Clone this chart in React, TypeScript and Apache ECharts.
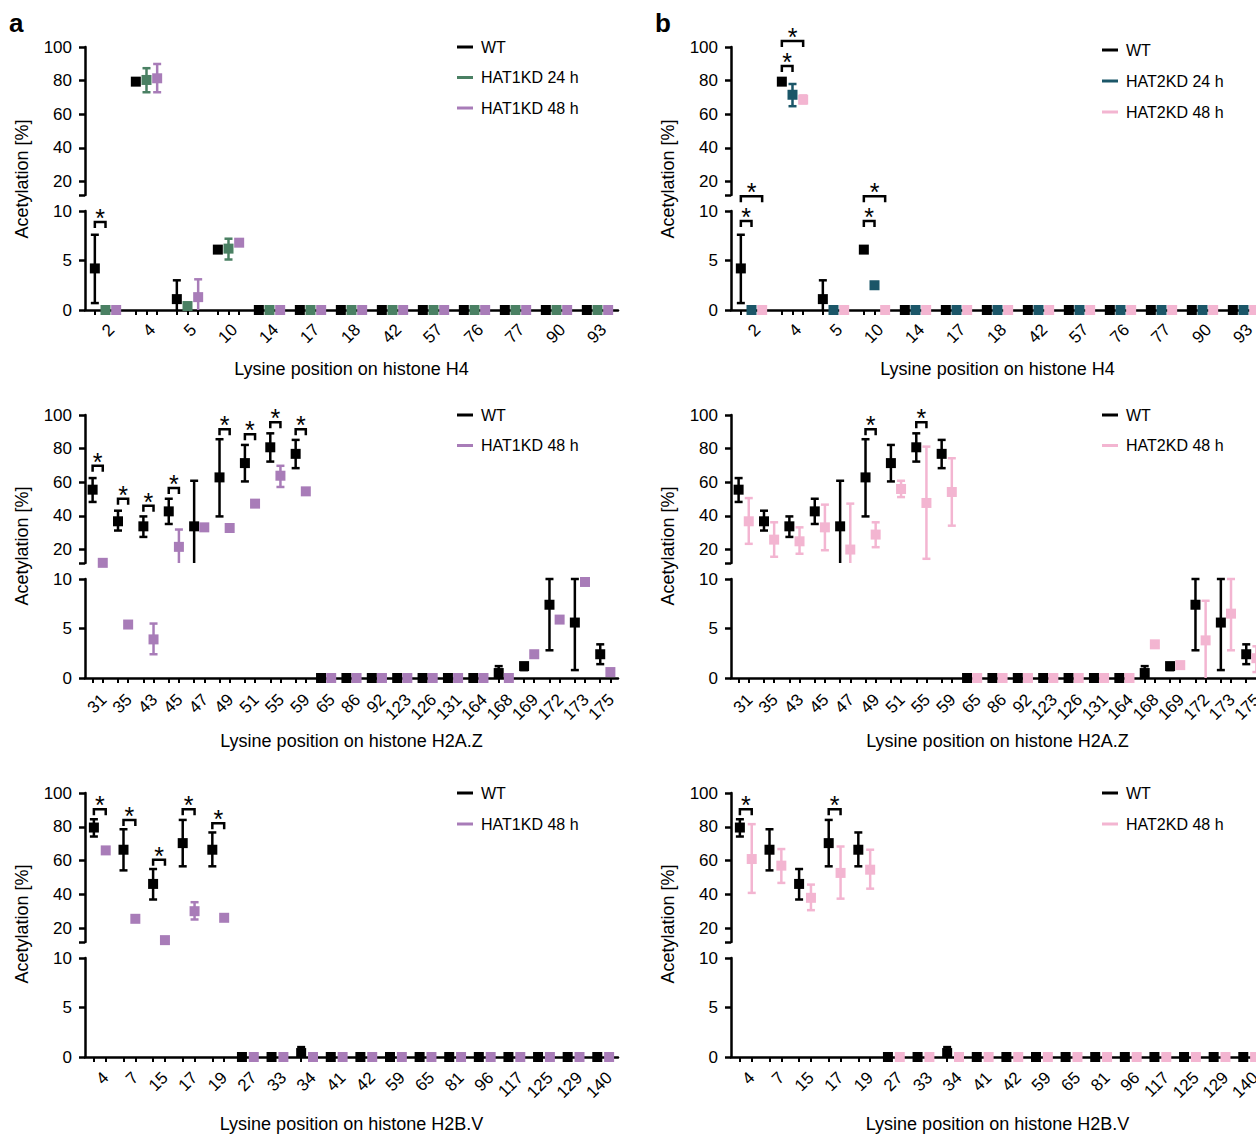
import React, { useEffect, useRef } from 'react';
import * as echarts from 'echarts';

const FONT = '"Liberation Sans", Arial, Helvetica, sans-serif';

// ---------- categories (lysine positions) ----------
const h4Positions = ['2', '4', '5', '10', '14', '17', '18', '42', '57', '76', '77', '90', '93'];
const h2azPositions = ['31', '35', '43', '45', '47', '49', '51', '55', '59', '65', '86', '92', '123', '126', '131', '164', '168', '169', '172', '173', '175'];
const h2bvPositions = ['4', '7', '15', '17', '19', '27', '33', '34', '41', '42', '59', '65', '81', '96', '117', '125', '129', '140'];

// ---------- H4 ----------
const h4WT = [4.2, 79.4, 1.1, 6.1, 0, 0, 0, 0, 0, 0, 0, 0, 0];
const h4WTErr = [[0, 0.7, 7.6], [2, -1, 3.0]]; // [index, low, high]
const h4Hat1_24 = [0, 80.4, 0.4, 6.2, 0, 0, 0, 0, 0, 0, 0, 0, 0];
const h4Hat1_24Err = [[1, 73.1, 87.4], [3, 5.1, 7.2]];
const h4Hat1_48 = [0, 81.4, 1.3, 6.8, 0, 0, 0, 0, 0, 0, 0, 0, 0];
const h4Hat1_48Err = [[1, 73.1, 89.9], [2, -1, 3.1]];
const h4Hat2_24 = [0, 71.6, 0, 2.5, 0, 0, 0, 0, 0, 0, 0, 0, 0];
const h4Hat2_24Err = [[1, 64.8, 78.0]];
const h4Hat2_48 = [0, 68.7, 0, 0, 0, 0, 0, 0, 0, 0, 0, 0, 0];
const h4Hat2_48Err = [[1, 66.5, 71.2]];
// significance brackets: [category, fromGroup, toGroup, height]
const h4Hat1Sig = [[0, 0, 1, 8.9]];
const h4Hat2Sig = [[0, 0, 1, 9.0], [0, 0, 2, 11.5], [1, 0, 1, 88.7], [1, 0, 2, 103.6], [3, 0, 1, 9.0], [3, 0, 2, 11.5]];

// ---------- H2A.Z ----------
const h2azWT = [55.6, 36.8, 33.8, 42.7, 33.8, 62.9, 71.4, 80.8, 76.9, 0, 0, 0, 0, 0, 0, 0, 0.5, 1.2, 7.4, 5.6, 2.4];
const h2azWTErr = [[0, 48.3, 62.5], [1, 31.3, 43.1], [2, 27.5, 39.7], [3, 35.2, 50.2], [4, 10, 60.9], [5, 39.7, 85.6], [6, 60.5, 82.2], [7, 72.3, 89.1], [8, 68.4, 85.2], [16, -1, 1.2], [17, 0.8, 1.5], [18, 2.8, 10], [19, 0.8, 10], [20, 1.4, 3.4]];
const h2azHat1_48 = [12.1, 5.4, 3.9, 21.6, 33.2, 32.8, 47.3, 63.9, 54.6, 0, 0, 0, 0, 0, 0, 0, 0, 2.4, 5.9, 9.7, 0.6];
const h2azHat1_48Err = [[2, 2.4, 5.5], [3, 10, 31.9], [7, 57.2, 69.8]];
const h2azHat2_48 = [36.8, 25.9, 24.9, 33.2, 20.0, 28.9, 56.0, 47.7, 54.2, 0, 0, 0, 0, 0, 0, 0, 3.4, 1.3, 3.8, 6.5, 2.0];
const h2azHat2_48Err = [[0, 23.4, 50.6], [1, 15.7, 36.2], [2, 17.5, 33.2], [3, 19.6, 46.7], [4, 10, 47.3], [5, 21.4, 36.2], [6, 51.2, 60.9], [7, 14.5, 81.2], [8, 34.2, 74.3], [18, -1, 7.8], [19, 2.8, 10], [20, 0.6, 3.2]];
const h2azHat1Sig = [[0, 0, 1, 69.8], [1, 0, 1, 50.2], [2, 0, 1, 46.1], [3, 0, 1, 56.6], [5, 0, 1, 91.5], [6, 0, 1, 88.6], [7, 0, 1, 95.7], [8, 0, 1, 91.5]];
const h2azHat2Sig = [[5, 0, 1, 91.5], [7, 0, 1, 95.7]];

// ---------- H2B.V ----------
const h2bvWT = [79.6, 66.5, 46.3, 70.4, 66.5, 0, 0, 0.4, 0, 0, 0, 0, 0, 0, 0, 0, 0, 0];
const h2bvWTErr = [[0, 74.3, 84.5], [1, 54.3, 78.6], [2, 37.1, 55.1], [3, 56.7, 84.1], [4, 56.7, 76.7], [7, -1, 1.0]];
const h2bvHat1_48 = [66.1, 25.7, 13.1, 30.2, 26.3, 0, 0, 0, 0, 0, 0, 0, 0, 0, 0, 0, 0, 0];
const h2bvHat1_48Err = [[3, 25.3, 35.5]];
const h2bvHat2_48 = [61.0, 57.1, 38.1, 52.8, 54.7, 0, 0, 0, 0, 0, 0, 0, 0, 0, 0, 0, 0, 0];
const h2bvHat2_48Err = [[0, 41.0, 81.6], [1, 46.9, 66.9], [2, 30.8, 45.9], [3, 37.6, 68.4], [4, 43.5, 66.5]];
const h2bvHat1Sig = [[0, 0, 1, 90.4], [1, 0, 1, 84.1], [2, 0, 1, 60.6], [3, 0, 1, 90.4], [4, 0, 1, 82.2]];
const h2bvHat2Sig = [[0, 0, 1, 90.4], [3, 0, 1, 90.4]];

// ---------- axis ticks ----------
const upperTicks = [12, 20, 40, 60, 80, 100];
const upperLabels = [20, 40, 60, 80, 100];

// ---------- styling ----------
const C = {
  wt: '#000000',
  hat1_24: '#4a8063',
  hat1_48: '#a87cb8',
  hat2_24: '#1b5668',
  hat2_48: '#f3b5d1',
};

const COL_LEFT = [85, 731];
const PLOT_W = 533;
const ROWS = [
  { upTop: 47, upBot: 195, loTop: 211, loBot: 310, title: 369, yTitle: 179, labelMargin: 11 },
  { upTop: 415, upBot: 563, loTop: 579, loBot: 678, title: 741, yTitle: 546, labelMargin: 13 },
  { upTop: 793, upBot: 942, loTop: 958, loBot: 1057, title: 1124, yTitle: 924, labelMargin: 12 },
];

const panels = [
  {
    col: 0, row: 0, cats: h4Positions, title: 'Lysine position on histone H4',
    groups: [
      { name: 'WT', color: C.wt, values: h4WT, err: h4WTErr },
      { name: 'HAT1KD 24 h', color: C.hat1_24, values: h4Hat1_24, err: h4Hat1_24Err },
      { name: 'HAT1KD 48 h', color: C.hat1_48, values: h4Hat1_48, err: h4Hat1_48Err },
    ],
    sig: h4Hat1Sig, legend: { left: 457, top: 47, gap: 30.5 },
  },
  {
    col: 1, row: 0, cats: h4Positions, title: 'Lysine position on histone H4',
    groups: [
      { name: 'WT', color: C.wt, values: h4WT, err: h4WTErr },
      { name: 'HAT2KD 24 h', color: C.hat2_24, values: h4Hat2_24, err: h4Hat2_24Err },
      { name: 'HAT2KD 48 h', color: C.hat2_48, values: h4Hat2_48, err: h4Hat2_48Err },
    ],
    sig: h4Hat2Sig, legend: { left: 1102, top: 50, gap: 31 },
  },
  {
    col: 0, row: 1, cats: h2azPositions, title: 'Lysine position on histone H2A.Z',
    groups: [
      { name: 'WT', color: C.wt, values: h2azWT, err: h2azWTErr },
      { name: 'HAT1KD 48 h', color: C.hat1_48, values: h2azHat1_48, err: h2azHat1_48Err },
    ],
    sig: h2azHat1Sig, legend: { left: 457, top: 415, gap: 30.5 },
  },
  {
    col: 1, row: 1, cats: h2azPositions, title: 'Lysine position on histone H2A.Z',
    groups: [
      { name: 'WT', color: C.wt, values: h2azWT, err: h2azWTErr },
      { name: 'HAT2KD 48 h', color: C.hat2_48, values: h2azHat2_48, err: h2azHat2_48Err },
    ],
    sig: h2azHat2Sig, legend: { left: 1102, top: 415, gap: 30.5 },
  },
  {
    col: 0, row: 2, cats: h2bvPositions, title: 'Lysine position on histone H2B.V',
    groups: [
      { name: 'WT', color: C.wt, values: h2bvWT, err: h2bvWTErr },
      { name: 'HAT1KD 48 h', color: C.hat1_48, values: h2bvHat1_48, err: h2bvHat1_48Err },
    ],
    sig: h2bvHat1Sig, legend: { left: 457, top: 793, gap: 31 },
  },
  {
    col: 1, row: 2, cats: h2bvPositions, title: 'Lysine position on histone H2B.V',
    groups: [
      { name: 'WT', color: C.wt, values: h2bvWT, err: h2bvWTErr },
      { name: 'HAT2KD 48 h', color: C.hat2_48, values: h2bvHat2_48, err: h2bvHat2_48Err },
    ],
    sig: h2bvHat2Sig, legend: { left: 1102, top: 793, gap: 31 },
  },
];

const LINE_W = 2.5;

function errRenderer(range: number[], color: string) {
  return (params: any, api: any) => {
    const x = api.value(0);
    const lo = api.value(1);
    const hi = api.value(2);
    const a = Math.max(lo, range[0]);
    const b = Math.min(hi, range[1]);
    if (b <= a) return { type: 'group', children: [] };
    const pa = api.coord([x, a]);
    const pb = api.coord([x, b]);
    const children: any[] = [
      { type: 'line', shape: { x1: pa[0], y1: pa[1], x2: pb[0], y2: pb[1] }, style: { stroke: color, lineWidth: LINE_W } },
    ];
    if (lo >= range[0]) children.push({ type: 'line', shape: { x1: pa[0] - 4, y1: pa[1], x2: pa[0] + 4, y2: pa[1] }, style: { stroke: color, lineWidth: LINE_W } });
    if (hi <= range[1]) children.push({ type: 'line', shape: { x1: pb[0] - 4, y1: pb[1], x2: pb[0] + 4, y2: pb[1] }, style: { stroke: color, lineWidth: LINE_W } });
    return { type: 'group', children };
  };
}

function sigRenderer(params: any, api: any) {
  const y = api.value(2);
  const a = api.coord([api.value(0), y]);
  const b = api.coord([api.value(1), y]);
  return {
    type: 'group',
    children: [
      {
        type: 'polyline',
        shape: { points: [[a[0], a[1] + 6], [a[0], a[1]], [b[0], b[1]], [b[0], b[1] + 6]] },
        style: { stroke: '#000', lineWidth: LINE_W, fill: null },
      },
      {
        type: 'text',
        x: (a[0] + b[0]) / 2,
        y: a[1] - 4,
        style: { text: '*', fontSize: 25, fontFamily: FONT, fill: '#000', align: 'center', verticalAlign: 'middle' },
      },
    ],
  };
}

function buildOption() {
  const grid: any[] = [];
  const xAxis: any[] = [];
  const yAxis: any[] = [];
  const series: any[] = [];
  const legend: any[] = [];
  const graphic: any[] = [];

  const axisLineStyle = { color: '#000', width: LINE_W };

  panels.forEach((p) => {
    const r = ROWS[p.row];
    const left = COL_LEFT[p.col];
    const n = p.cats.length;
    const offs = p.groups.length === 3 ? [-0.26, 0, 0.26] : [-0.2, 0.2];

    const up = grid.length;
    grid.push({ left, width: PLOT_W, top: r.upTop, height: r.upBot - r.upTop, containLabel: false, outerBoundsMode: 'none' });
    const lo = grid.length;
    grid.push({ left, width: PLOT_W, top: r.loTop, height: r.loBot - r.loTop, containLabel: false, outerBoundsMode: 'none' });

    const tickVals: number[] = [];
    p.cats.forEach((_, i) => offs.forEach((o) => tickVals.push(i + o)));

    xAxis.push({ gridIndex: up, type: 'value', min: -0.5, max: n - 0.5, show: false, axisLine: { onZero: false } });
    xAxis.push({
      gridIndex: lo, type: 'value', min: -0.5, max: n - 0.5,
      axisLine: { show: true, onZero: false, lineStyle: axisLineStyle },
      axisTick: { show: true, customValues: tickVals, length: 5, lineStyle: { color: '#000', width: 2 } },
      axisLabel: {
        show: true, customValues: p.cats.map((_, i) => i), rotate: 45, hideOverlap: false,
        align: 'right', verticalAlign: 'top',
        formatter: (v: number) => p.cats[Math.round(v)], fontSize: 17, margin: r.labelMargin, color: '#000', fontFamily: FONT,
      },
      splitLine: { show: false },
    });

    yAxis.push({
      gridIndex: up, type: 'value', min: 12, max: 100,
      axisLine: { show: true, onZero: false, lineStyle: axisLineStyle },
      axisTick: { show: true, customValues: upperTicks, length: 6, lineStyle: { color: '#000', width: LINE_W } },
      axisLabel: { show: true, customValues: upperLabels, fontSize: 17, margin: 13, color: '#000', fontFamily: FONT },
      splitLine: { show: false },
    });
    yAxis.push({
      gridIndex: lo, type: 'value', min: 0, max: 10, interval: 5,
      axisLine: { show: true, onZero: false, lineStyle: axisLineStyle },
      axisTick: { show: true, length: 6, lineStyle: { color: '#000', width: LINE_W } },
      axisLabel: { show: true, fontSize: 17, margin: 13, color: '#000', fontFamily: FONT },
      splitLine: { show: false },
    });

    p.groups.forEach((g, gi) => {
      const off = offs[gi];
      const pts = g.values.map((v, i) => [i + off, v]);
      series.push({
        type: 'scatter', name: g.name, xAxisIndex: up, yAxisIndex: up, symbol: 'rect', symbolSize: 10,
        itemStyle: { color: g.color, opacity: 1 }, data: pts.filter((d) => d[1] > 10), z: 5, clip: false, silent: true,
      });
      series.push({
        type: 'scatter', name: g.name, xAxisIndex: lo, yAxisIndex: lo, symbol: 'rect', symbolSize: 10,
        itemStyle: { color: g.color, opacity: 1 }, data: pts.filter((d) => d[1] <= 10), z: 5, clip: false, silent: true,
      });
      const errUp = g.err.filter((e) => g.values[e[0]] > 10).map((e) => [e[0] + off, e[1], e[2]]);
      const errLo = g.err.filter((e) => g.values[e[0]] <= 10).map((e) => [e[0] + off, e[1], e[2]]);
      series.push({
        type: 'custom', xAxisIndex: up, yAxisIndex: up, data: errUp, renderItem: errRenderer([12, 100], g.color), z: 4, silent: true,
        encode: { x: 0, y: [1, 2] },
      });
      series.push({
        type: 'custom', xAxisIndex: lo, yAxisIndex: lo, data: errLo, renderItem: errRenderer([0, 10], g.color), z: 4, silent: true,
        encode: { x: 0, y: [1, 2] },
      });
    });

    const sigUp = p.sig.filter((s) => s[3] >= 12).map((s) => [s[0] + offs[s[1]], s[0] + offs[s[2]], s[3]]);
    const sigLo = p.sig.filter((s) => s[3] < 12).map((s) => [s[0] + offs[s[1]], s[0] + offs[s[2]], s[3]]);
    series.push({ type: 'custom', xAxisIndex: up, yAxisIndex: up, data: sigUp, renderItem: sigRenderer, z: 6, silent: true, encode: { x: [0, 1], y: 2 } });
    series.push({ type: 'custom', xAxisIndex: lo, yAxisIndex: lo, data: sigLo, renderItem: sigRenderer, z: 6, silent: true, encode: { x: [0, 1], y: 2 } });

    legend.push({
      show: true, orient: 'vertical', left: p.legend.left, top: p.legend.top - 9, padding: 0,
      itemWidth: 16, itemHeight: 3, itemGap: p.legend.gap - 18, icon: 'rect', selectedMode: false,
      data: p.groups.map((g) => g.name),
      textStyle: { fontSize: 16, fontFamily: FONT, color: '#000', lineHeight: 18, padding: [0, 0, 0, 3] },
    });

    graphic.push({
      type: 'text', x: left + PLOT_W / 2, y: r.title,
      style: { text: p.title, fontSize: 18, fontFamily: FONT, fill: '#000', align: 'center', verticalAlign: 'middle' },
    });
    graphic.push({
      type: 'text', x: left - 63.5, y: r.yTitle, rotation: Math.PI / 2,
      style: { text: 'Acetylation [%]', fontSize: 18, fontFamily: FONT, fill: '#000', align: 'center', verticalAlign: 'middle' },
    });
  });

  graphic.push({ type: 'text', x: 9, y: 23, style: { text: 'a', fontSize: 26, fontWeight: 'bold', fontFamily: FONT, fill: '#000', verticalAlign: 'middle' } });
  graphic.push({ type: 'text', x: 655, y: 23, style: { text: 'b', fontSize: 26, fontWeight: 'bold', fontFamily: FONT, fill: '#000', verticalAlign: 'middle' } });

  return {
    animation: false,
    backgroundColor: '#ffffff',
    textStyle: { fontFamily: FONT, color: '#000' },
    tooltip: { show: false },
    grid, xAxis, yAxis, series, legend, graphic,
  };
}

export default function App() {
  const ref = useRef<HTMLDivElement>(null);
  useEffect(() => {
    if (!ref.current) return;
    const chart = echarts.init(ref.current, null, { renderer: 'svg' });
    chart.setOption(buildOption() as any);
    return () => chart.dispose();
  }, []);
  return <div ref={ref} style={{ position: 'absolute', left: 0, top: 0, width: 1256, height: 1134 }} />;
}
